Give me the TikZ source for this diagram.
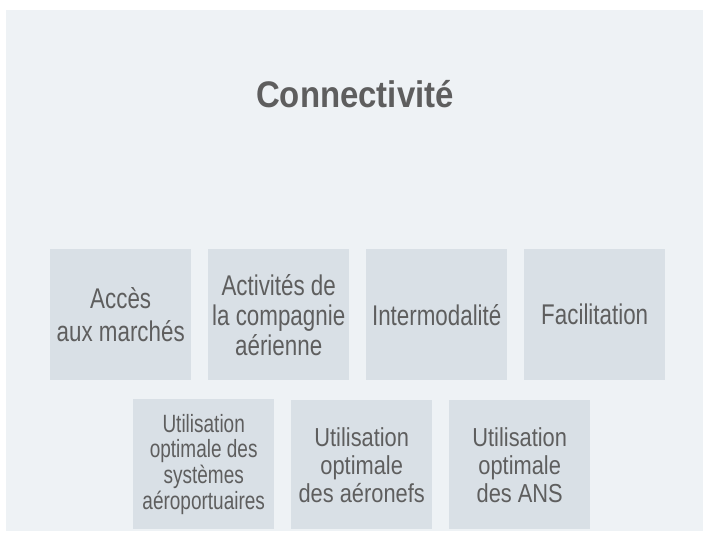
\documentclass[tikz,border=0pt]{standalone}
\usepackage{fontspec}
\newfontfamily\boxfont{Liberation Sans}[FakeStretch=0.785]
\newfontfamily\boxfontS{Liberation Sans}[FakeStretch=0.76]
\newfontfamily\boxfontM{Liberation Sans}[FakeStretch=0.84]
\newfontfamily\titlefont{Liberation Sans Bold}[FakeStretch=0.89]
\definecolor{panelbg}{HTML}{EEF2F5}
\definecolor{boxbg}{HTML}{D9E0E6}
\definecolor{txt}{HTML}{5E5E5E}
\tikzset{
  boxA/.style={fill=boxbg, draw=none, minimum width=141pt, minimum height=131pt, inner sep=0pt, align=center, text=txt, anchor=north west},
  bigtxt/.style={font=\boxfont\fontsize{28.5}{30}\selectfont},
  midtxt/.style={font=\boxfontM\fontsize{26}{28}\selectfont},
  smalltxt/.style={font=\boxfontS\fontsize{25}{25.7}\selectfont}
}
\begin{document}
\begin{tikzpicture}[x=1pt,y=1pt]
\useasboundingbox (0,0) rectangle (703,-533);
\fill[panelbg] (6,-10) rectangle (703,-531);
\node[font=\titlefont\fontsize{37}{40}\selectfont, text=txt, anchor=base] (title) at (355,-107) {Connectivité};
\node[boxA, bigtxt] (b1) at (50,-249) {Accès\\[3pt]aux marchés};
\node[boxA, bigtxt] (b2) at (208,-249) {Activités de\\la compagnie\\aérienne};
\node[boxA, bigtxt] (b3) at (366,-249) {Intermodalité};
\node[boxA, bigtxt] (b4) at (524,-249) {Facilitation};
\node[boxA, smalltxt, minimum height=130pt] (b5) at (133,-399) {Utilisation\\optimale des\\systèmes\\aéroportuaires};
\node[boxA, midtxt, minimum height=129pt] (b6) at (291,-400) {Utilisation\\optimale\\des aéronefs};
\node[boxA, midtxt, minimum height=129pt] (b7) at (449,-400) {Utilisation\\optimale\\des ANS};
\end{tikzpicture}
\end{document}
